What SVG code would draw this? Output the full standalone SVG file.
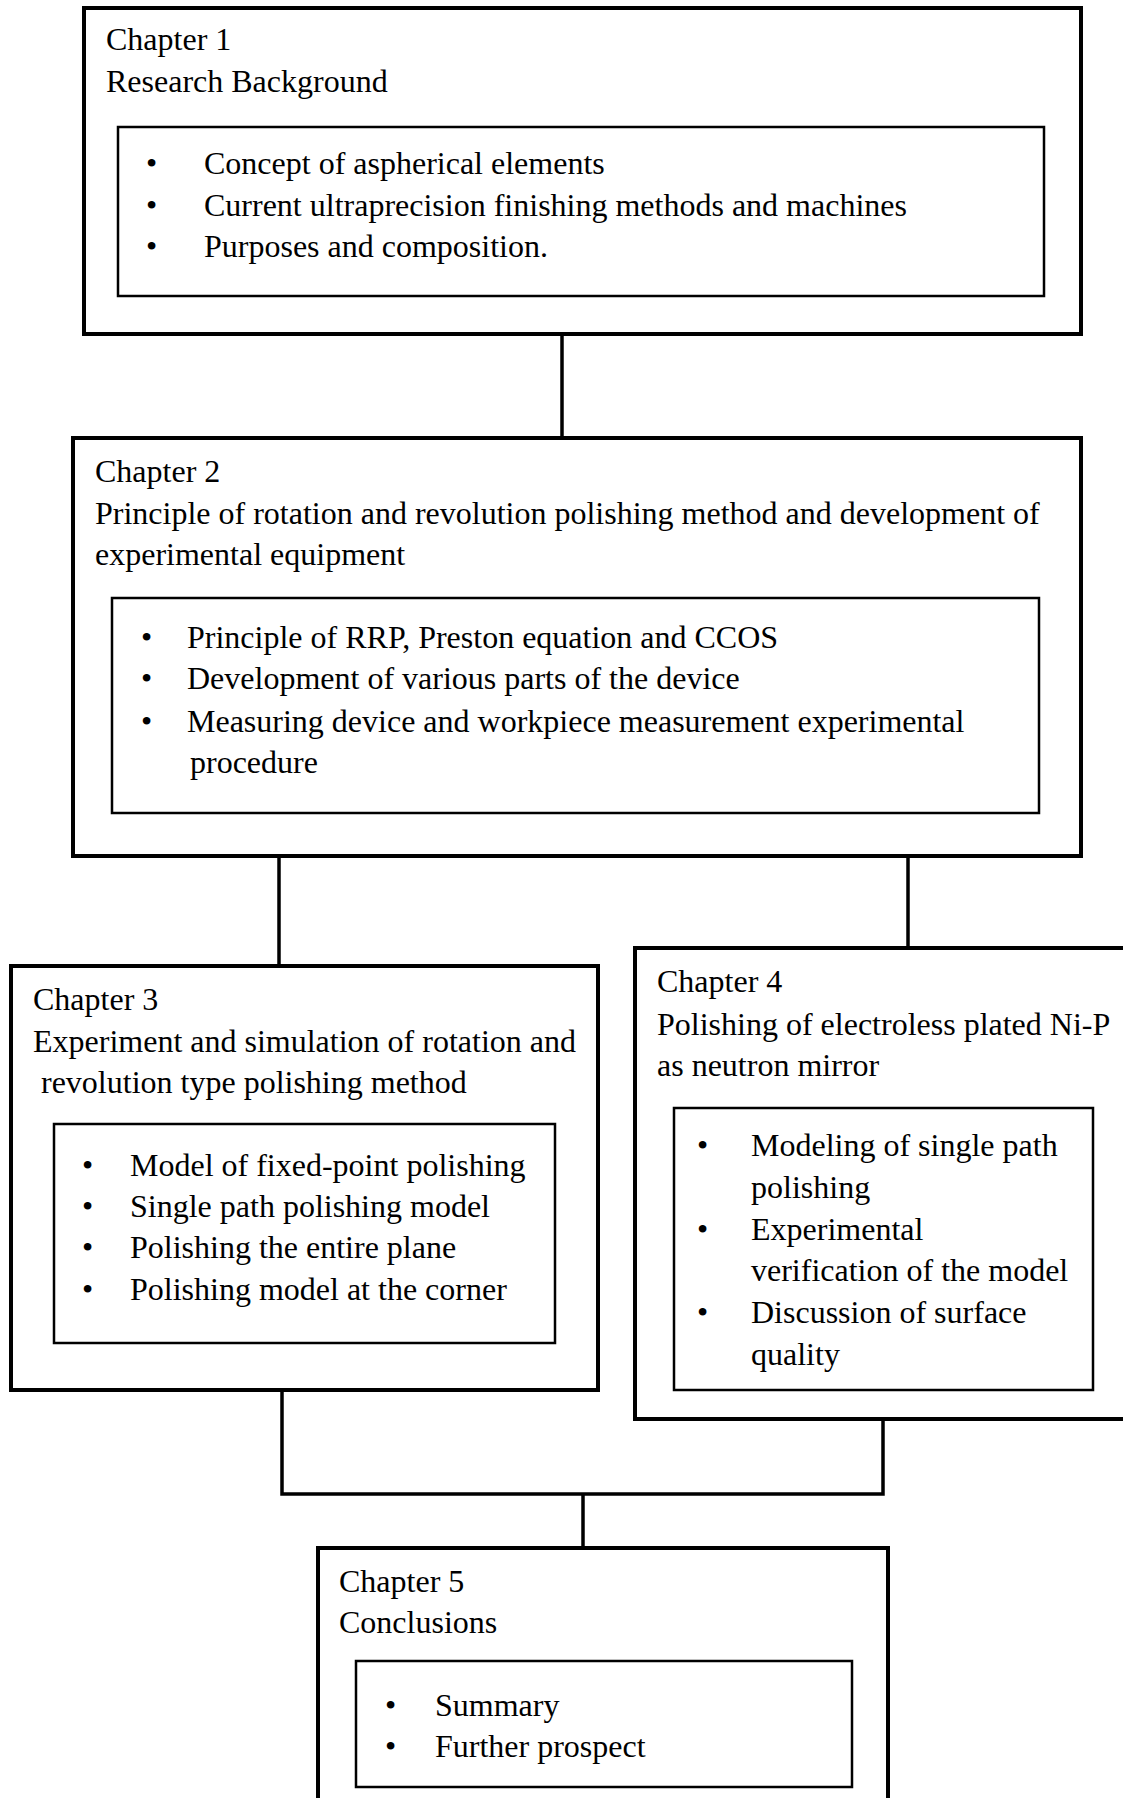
<svg xmlns="http://www.w3.org/2000/svg" width="1123" height="1798" viewBox="0 0 1123 1798">
<style>
  text { font-family: "Liberation Serif", "Times New Roman", serif; font-size: 32px; fill: #000; }
  .outer { fill: #fff; stroke: #000; stroke-width: 4; }
  .inner { fill: #fff; stroke: #000; stroke-width: 2.5; }
  .conn { fill: none; stroke: #000; stroke-width: 3.5; }
</style>
<rect width="1123" height="1798" fill="#fff"/>
<g id="connectors">
  <line class="conn" x1="562" y1="334" x2="562" y2="438"/>
  <line class="conn" x1="279" y1="856" x2="279" y2="966"/>
  <line class="conn" x1="908" y1="856" x2="908" y2="948"/>
  <polyline class="conn" points="282,1390 282,1494 883,1494 883,1419"/>
  <line class="conn" x1="583" y1="1494" x2="583" y2="1548"/>
</g>
<g id="chapter1">
  <rect class="outer" x="84" y="8" width="997" height="326"/>
  <text x="106" y="50">Chapter 1</text>
  <text x="106" y="92">Research Background</text>
  <rect class="inner" x="118" y="127" width="926" height="169"/>
  <text x="146" y="174">•</text><text x="204" y="174">Concept of aspherical elements</text>
  <text x="146" y="216">•</text><text x="204" y="216">Current ultraprecision finishing methods and machines</text>
  <text x="146" y="257">•</text><text x="204" y="257">Purposes and composition.</text>
</g>
<g id="chapter2">
  <rect class="outer" x="73" y="438" width="1008" height="418"/>
  <text x="95" y="482">Chapter 2</text>
  <text x="95" y="524">Principle of rotation and revolution polishing method and development of</text>
  <text x="95" y="565">experimental equipment</text>
  <rect class="inner" x="112" y="598" width="927" height="215"/>
  <text x="141" y="648">•</text><text x="187" y="648">Principle of RRP, Preston equation and CCOS</text>
  <text x="141" y="689">•</text><text x="187" y="689">Development of various parts of the device</text>
  <text x="141" y="732">•</text><text x="187" y="732">Measuring device and workpiece measurement experimental</text>
  <text x="190" y="773">procedure</text>
</g>
<g id="chapter3">
  <rect class="outer" x="11" y="966" width="587" height="424"/>
  <text x="33" y="1010">Chapter 3</text>
  <text x="33" y="1052">Experiment and simulation of rotation and</text>
  <text x="41" y="1093">revolution type polishing method</text>
  <rect class="inner" x="54" y="1124" width="501" height="219"/>
  <text x="82" y="1176">•</text><text x="130" y="1176">Model of fixed-point polishing</text>
  <text x="82" y="1217">•</text><text x="130" y="1217">Single path polishing model</text>
  <text x="82" y="1258">•</text><text x="130" y="1258">Polishing the entire plane</text>
  <text x="82" y="1300">•</text><text x="130" y="1300">Polishing model at the corner</text>
</g>
<g id="chapter4">
  <rect class="outer" x="635" y="948" width="500" height="471"/>
  <text x="657" y="992">Chapter 4</text>
  <text x="657" y="1035">Polishing of electroless plated Ni-P</text>
  <text x="657" y="1076">as neutron mirror</text>
  <rect class="inner" x="674" y="1108" width="419" height="282"/>
  <text x="697" y="1156">•</text><text x="751" y="1156">Modeling of single path</text>
  <text x="751" y="1198">polishing</text>
  <text x="697" y="1240">•</text><text x="751" y="1240">Experimental</text>
  <text x="751" y="1281">verification of the model</text>
  <text x="697" y="1323">•</text><text x="751" y="1323">Discussion of surface</text>
  <text x="751" y="1365">quality</text>
</g>
<g id="chapter5">
  <rect class="outer" x="318" y="1548" width="570" height="300"/>
  <text x="339" y="1592">Chapter 5</text>
  <text x="339" y="1633">Conclusions</text>
  <rect class="inner" x="356" y="1661" width="496" height="126"/>
  <text x="385" y="1716">•</text><text x="435" y="1716">Summary</text>
  <text x="385" y="1757">•</text><text x="435" y="1757">Further prospect</text>
</g>
</svg>
